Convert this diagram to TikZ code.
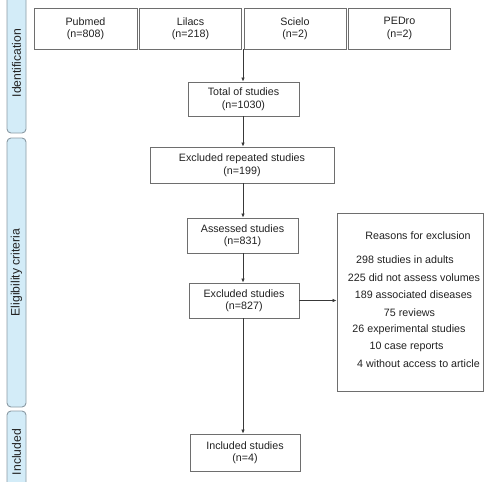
\documentclass[tikz,border=0pt]{standalone}
\usepackage{fontspec}
\setmainfont{Liberation Sans}
\usetikzlibrary{arrows.meta}
\definecolor{boxline}{HTML}{6E6E6E}
\definecolor{barfill}{HTML}{D3ECF8}
\definecolor{barline}{HTML}{8A9AA3}
\definecolor{txt}{HTML}{222222}
\tikzset{
  box/.style={draw=boxline, line width=0.9pt, fill=white, align=center, text=txt,
    font=\fontsize{10.7}{12.5}\selectfont, inner sep=0pt},
  sidebar/.style={draw=barline, line width=0.9pt, fill=barfill, rounded corners=4pt,
    rotate=90, minimum height=19pt, inner sep=0pt, text=txt,
    font=\fontsize{12.2}{14}\selectfont},
  reason/.style={text=txt, font=\fontsize{10.7}{12.5}\selectfont, inner sep=0pt},
  arr/.style={draw=txt!90, line width=0.8pt, -{Latex[length=4pt,width=3.6pt]}}
}
\begin{document}
\begin{tikzpicture}[x=1pt,y=-1pt]
\useasboundingbox (0,0) rectangle (488,482);
\clip (0,0) rectangle (488,482);
% side bars
\node[sidebar, minimum width=140pt] (bid) at (16.5,63) {Identification};
\node[sidebar, minimum width=269pt] (bel) at (16.5,272.5) {Eligibility criteria};
\node[sidebar, minimum width=82pt] (bin) at (16.5,452) {Included};
% top row
\node[box, minimum width=103pt, minimum height=41pt] (pub) at (85.5,28.5) {Pubmed\\(n=808)};
\node[box, minimum width=102pt, minimum height=41pt] (lil) at (190.5,28.5) {Lilacs\\(n=218)};
\node[box, minimum width=102pt, minimum height=41pt] (sci) at (295,28.5) {Scielo\\(n=2)};
\node[box, minimum width=102.5pt, minimum height=41pt] (ped) at (399.5,28.5) {PEDro\\(n=2)};
\coordinate (join) at (243,49);
% chain
\node[box, minimum width=111pt, minimum height=34pt] (tot) at (243.5,99) {Total of studies\\(n=1030)};
\node[box, minimum width=184pt, minimum height=36pt] (rep) at (242,165) {Excluded repeated studies\\(n=199)};
\node[box, minimum width=111pt, minimum height=35pt] (ass) at (242.5,235.5) {Assessed studies\\(n=831)};
\node[box, minimum width=110pt, minimum height=35pt] (exc) at (244,300.5) {Excluded studies\\(n=827)};
\node[box, minimum width=110pt, minimum height=37pt] (inc) at (245,452.5) {Included studies\\(n=4)};
% reasons box
\node[box, minimum width=146pt, minimum height=178pt] (rea) at (410,302) {};
\node[reason] (r0) at (418,236) {Reasons for exclusion};
\node[reason] (r1) at (405,260) {298 studies in adults};
\node[reason] (r2) at (414,277.5) {225 did not assess volumes};
\node[reason] (r3) at (413.5,295) {189 associated diseases};
\node[reason] (r4) at (409.5,312.5) {75 reviews};
\node[reason] (r5) at (409,329.5) {26 experimental studies};
\node[reason] (r6) at (406.5,347) {10 case reports};
\node[reason] (r7) at (418.5,364) {4 without access to article};
% connectors
\draw[arr] (join) -- (join |- tot.north);
\draw[arr] (tot.south -| join) -- (join |- rep.north);
\draw[arr] (rep.south -| join) -- (join |- ass.north);
\draw[arr] (ass.south -| join) -- (join |- exc.north);
\draw[arr] (exc.south -| join) -- (join |- inc.north);
\draw[arr] (exc.east) -- (exc.east -| rea.west);
\end{tikzpicture}
\end{document}
